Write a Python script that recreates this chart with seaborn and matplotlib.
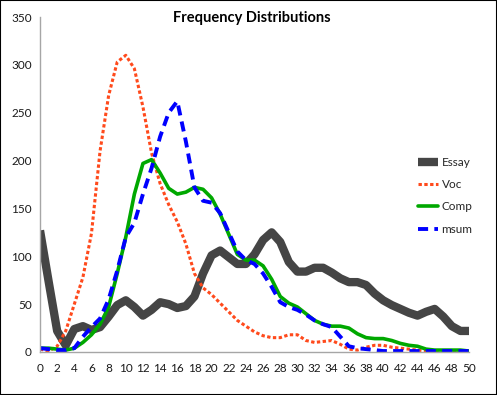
import numpy as np
import pandas as pd
import matplotlib
matplotlib.use("Agg")
import matplotlib.pyplot as plt
import seaborn as sns
from matplotlib.patches import Rectangle

# score values 0..50
score = list(range(51))

essay = [127, 74, 22, 7, 24, 27, 23, 26, 37, 49, 54, 47, 38, 44, 52, 50, 46, 48, 58, 82,
         101, 106, 99, 92, 92, 102, 117, 125, 115, 94, 84, 84, 88, 88, 83, 77, 73, 73, 70, 61,
         54, 49, 45, 41, 38, 42, 45, 37, 27, 22, 22]
voc = [3, 1, 6, 22, 50, 78, 124, 210, 268, 303, 310, 296, 256, 208, 176, 154, 136, 113, 82, 67,
       60, 51, 42, 33, 27, 21, 17, 15, 15, 18, 18, 12, 10, 11, 12, 8, 3, 2, 5, 7,
       7, 5, 4, 3, 2, 1, 0, 0, 0, 0, 0]
comp = [4, 4, 3, 2, 4, 10, 18, 29, 47, 82, 120, 165, 197, 201, 187, 171, 165, 167, 172, 170,
        161, 144, 123, 102, 96, 96, 90, 76, 58, 51, 47, 40, 33, 29, 27, 27, 25, 19, 15, 14,
        14, 12, 9, 7, 6, 3, 2, 2, 2, 2, 1]
msum = [4, 3, 2, 2, 4, 16, 26, 35, 55, 85, 120, 135, 165, 192, 225, 250, 262, 220, 172, 158,
        156, 145, 125, 105, 96, 92, 82, 68, 52, 47, 44, 39, 33, 29, 26, 16, 6, 4, 3, 2,
        1, 1, 1, 1, 1, 1, 1, 1, 1, 1, 1]

df = pd.DataFrame({"Score": score, "Essay": essay, "Voc": voc, "Comp": comp, "msum": msum})

sns.set_style("white")
plt.rcParams['font.family'] = ['Lato', 'DejaVu Sans']

fig = plt.figure(figsize=(4.97, 3.95), dpi=100)
ax = fig.add_axes([40 / 497, 1 - 352 / 395, 429 / 497, 335 / 395])

sns.lineplot(data=df, x="Score", y="Essay", ax=ax, color="#454545", lw=6,
             solid_capstyle="butt", solid_joinstyle="round", label="Essay")
sns.lineplot(data=df, x="Score", y="Voc", ax=ax, color="#FF4A1C", lw=2.2,
             linestyle=(0, (1.1, 0.8)), dash_capstyle="butt", label="Voc")
sns.lineplot(data=df, x="Score", y="Comp", ax=ax, color="#00A800", lw=2.6,
             solid_joinstyle="round", label="Comp")
sns.lineplot(data=df, x="Score", y="msum", ax=ax, color="#0000FF", lw=2.8,
             linestyle=(0, (2.6, 1.6)), dash_capstyle="butt", label="msum")

ax.set_xlim(0, 50)
ax.set_ylim(0, 350)
ax.set_xticks(range(0, 51, 2))
ax.set_yticks(range(0, 351, 50))
ax.set_xlabel("")
ax.set_ylabel("")
for s in ["top", "right"]:
    ax.spines[s].set_visible(False)
for s in ["left", "bottom"]:
    ax.spines[s].set_color("#A6A6A6")
    ax.spines[s].set_linewidth(1.0)
ax.tick_params(axis="both", direction="out", length=4, width=1, color="#A6A6A6",
               labelsize=8.5, labelcolor="#1a1a1a", pad=2)
ax.tick_params(axis="x", pad=4)
ax.margins(0)

ax.legend(loc="upper left", bbox_to_anchor=(418 / 497, 1 - 157 / 395),
          bbox_transform=fig.transFigure, frameon=False, fontsize=8.5,
          handlelength=1.7, handletextpad=0.3, labelspacing=0.95, borderpad=0,
          borderaxespad=0)

fig.text(252 / 497, 1 - 18 / 395, "Frequency Distributions", ha="center", va="center",
         fontsize=10.5, fontweight="bold", color="black")

fig.add_artist(Rectangle((0, 0), 1, 1, transform=fig.transFigure, fill=False,
                         ec="black", lw=1.5))

fig.savefig("out.png", dpi=100)
